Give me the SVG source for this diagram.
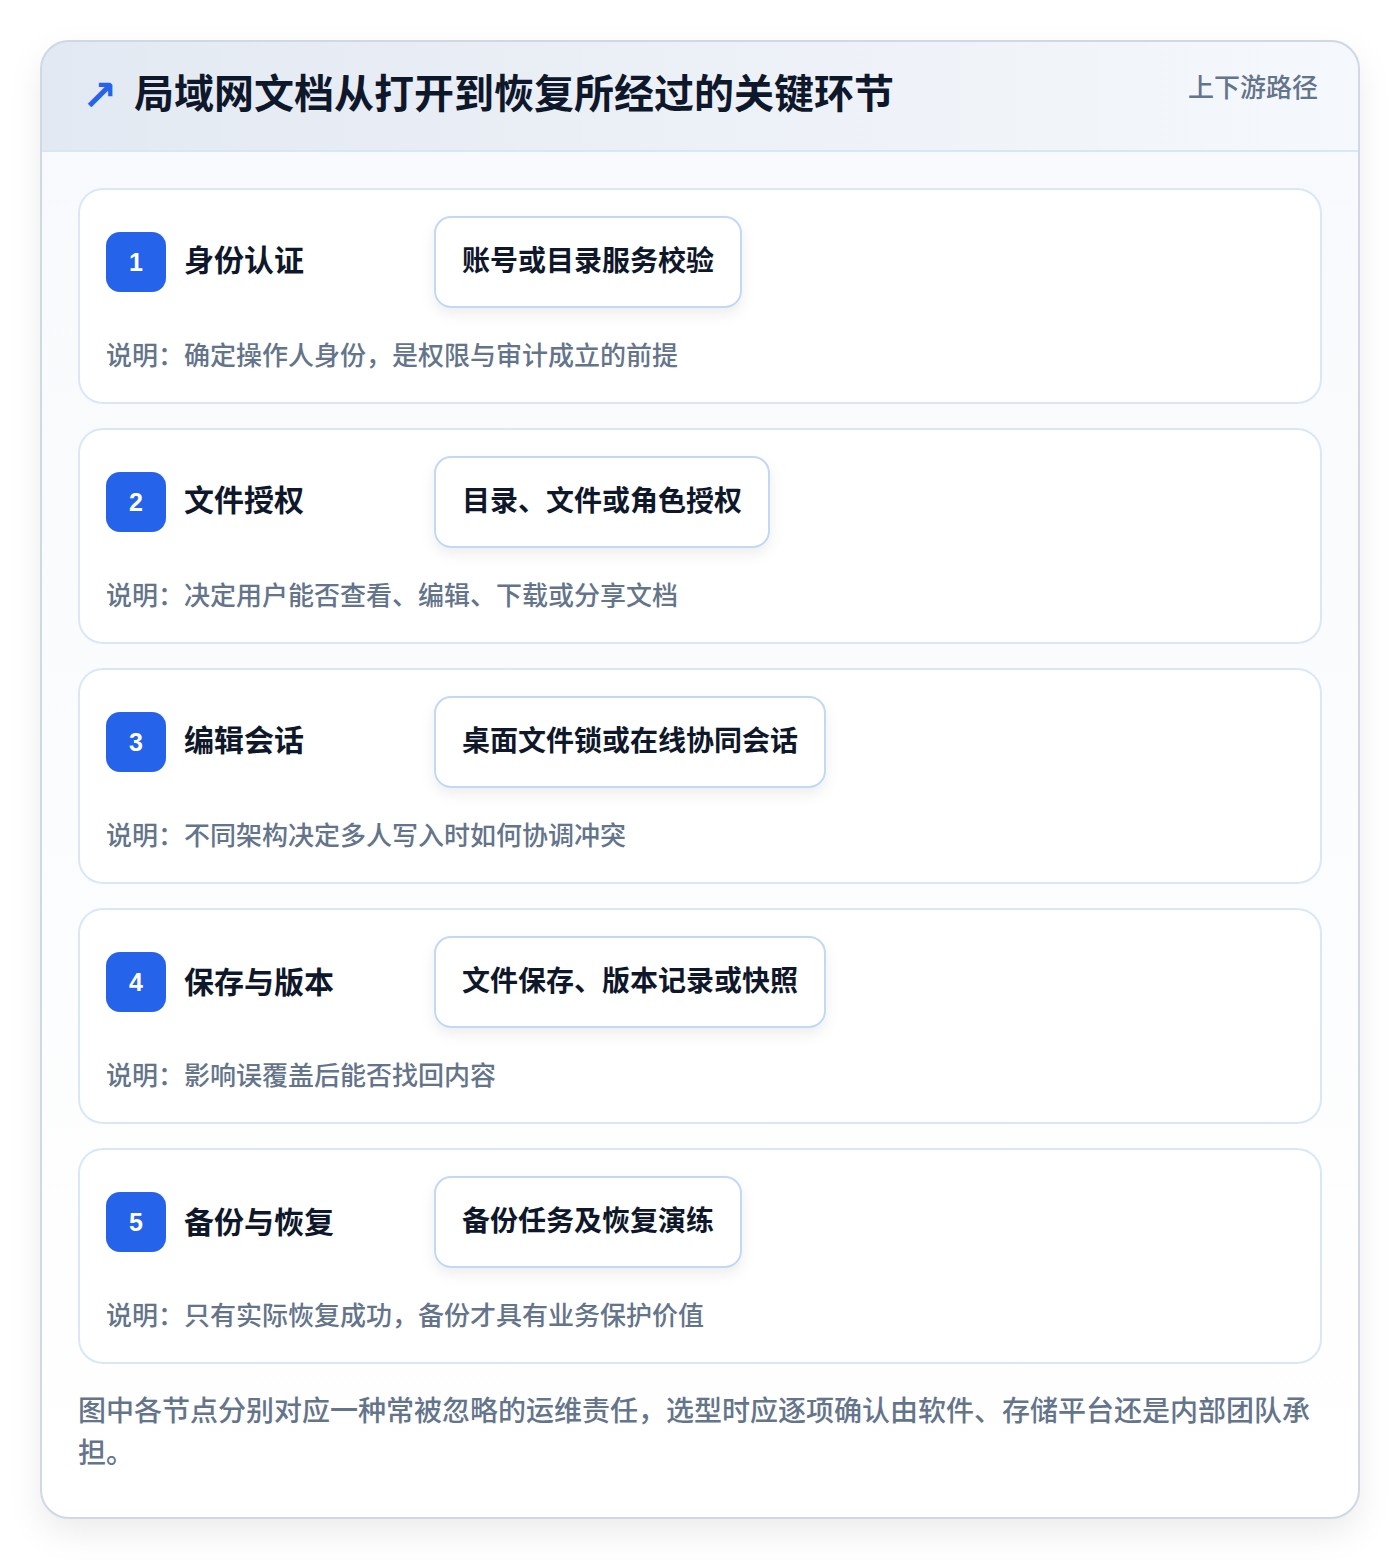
<svg xmlns="http://www.w3.org/2000/svg" width="1400" height="1560" viewBox="0 0 1400 1560">
<defs>
<linearGradient id="hdr" x1="0" y1="0" x2="1" y2="0"><stop offset="0" stop-color="#e3e9f2"/><stop offset="1" stop-color="#f5f8fc"/></linearGradient>
<linearGradient id="body" x1="0" y1="0" x2="0" y2="1"><stop offset="0" stop-color="#f7f9fc"/><stop offset="1" stop-color="#ffffff"/></linearGradient>
<filter id="outerShadow" x="-10%" y="-10%" width="120%" height="120%"><feDropShadow dx="0" dy="14" stdDeviation="16" flood-color="#0f172a" flood-opacity="0.08"/></filter>
<filter id="boxShadow" x="-20%" y="-30%" width="140%" height="170%"><feDropShadow dx="0" dy="6" stdDeviation="7" flood-color="#0f172a" flood-opacity="0.07"/></filter>
<clipPath id="outerClip"><rect x="41" y="41" width="1318" height="1477" rx="28"/></clipPath>
</defs>
<style>
.card{fill:#ffffff;stroke:#dbe7f7;stroke-width:2}
.badge{fill:#2563eb}
.num{font-family:"Liberation Sans",Arial,sans-serif;font-size:25px;font-weight:700;fill:#ffffff;text-anchor:middle}
.ttl{font-family:"Noto Sans CJK SC","Noto Sans",sans-serif;font-size:30px;font-weight:700;fill:#0f172a}
.box{fill:#ffffff;stroke:#c3d8f3;stroke-width:2}
.boxt{font-family:"Noto Sans CJK SC","Noto Sans",sans-serif;font-size:28px;font-weight:700;fill:#0f172a}
.desc{font-family:"Noto Sans CJK SC","Noto Sans",sans-serif;font-size:26px;font-weight:500;fill:#64748b}
.foot{font-family:"Noto Sans CJK SC","Noto Sans",sans-serif;font-size:28px;font-weight:500;fill:#64748b}
</style>
<rect width="1400" height="1560" fill="#ffffff"/>
<g id="frame">
<rect x="41" y="41" width="1318" height="1477" rx="28" fill="#ffffff" filter="url(#outerShadow)"/>
<g clip-path="url(#outerClip)">
<rect x="41" y="41" width="1318" height="1477" fill="url(#body)"/>
<rect x="41" y="41" width="1318" height="110" fill="url(#hdr)"/>
<line x1="41" y1="151" x2="1359" y2="151" stroke="#d9e6f6" stroke-width="2"/>
</g>
<rect x="41" y="41" width="1318" height="1477" rx="28" fill="none" stroke="#cfd8e4" stroke-width="2"/>
</g>
<g id="header">
<text x="82" y="110" font-family="'DejaVu Sans',sans-serif" font-size="42" font-weight="700" fill="#2563eb">↗</text>
<text x="134" y="108" font-family="'Noto Sans CJK SC','Noto Sans',sans-serif" font-size="40" font-weight="700" fill="#0f172a">局域网文档从打开到恢复所经过的关键环节</text>
<text x="1318" y="97" text-anchor="end" font-family="'Noto Sans CJK SC','Noto Sans',sans-serif" font-size="26" font-weight="500" fill="#64748b">上下游路径</text>
</g>
<g id="connectors"></g>
<g id="node1">
<rect class="card" x="79" y="189" width="1242" height="214" rx="24"/>
<rect class="badge" x="106" y="232" width="60" height="60" rx="14"/>
<text class="num" x="136" y="271">1</text>
<text class="ttl" x="184" y="271">身份认证</text>
<rect class="box" x="435" y="217" width="306" height="90" rx="16" filter="url(#boxShadow)"/>
<text class="boxt" x="462" y="271">账号或目录服务校验</text>
<text class="desc" x="106" y="365">说明：确定操作人身份，是权限与审计成立的前提</text>
</g>
<g id="node2">
<rect class="card" x="79" y="429" width="1242" height="214" rx="24"/>
<rect class="badge" x="106" y="472" width="60" height="60" rx="14"/>
<text class="num" x="136" y="511">2</text>
<text class="ttl" x="184" y="511">文件授权</text>
<rect class="box" x="435" y="457" width="334" height="90" rx="16" filter="url(#boxShadow)"/>
<text class="boxt" x="462" y="511">目录、文件或角色授权</text>
<text class="desc" x="106" y="605">说明：决定用户能否查看、编辑、下载或分享文档</text>
</g>
<g id="node3">
<rect class="card" x="79" y="669" width="1242" height="214" rx="24"/>
<rect class="badge" x="106" y="712" width="60" height="60" rx="14"/>
<text class="num" x="136" y="751">3</text>
<text class="ttl" x="184" y="751">编辑会话</text>
<rect class="box" x="435" y="697" width="390" height="90" rx="16" filter="url(#boxShadow)"/>
<text class="boxt" x="462" y="751">桌面文件锁或在线协同会话</text>
<text class="desc" x="106" y="845">说明：不同架构决定多人写入时如何协调冲突</text>
</g>
<g id="node4">
<rect class="card" x="79" y="909" width="1242" height="214" rx="24"/>
<rect class="badge" x="106" y="952" width="60" height="60" rx="14"/>
<text class="num" x="136" y="991">4</text>
<text class="ttl" x="184" y="993">保存与版本</text>
<rect class="box" x="435" y="937" width="390" height="90" rx="16" filter="url(#boxShadow)"/>
<text class="boxt" x="462" y="991">文件保存、版本记录或快照</text>
<text class="desc" x="106" y="1085">说明：影响误覆盖后能否找回内容</text>
</g>
<g id="node5">
<rect class="card" x="79" y="1149" width="1242" height="214" rx="24"/>
<rect class="badge" x="106" y="1192" width="60" height="60" rx="14"/>
<text class="num" x="136" y="1231">5</text>
<text class="ttl" x="184" y="1233">备份与恢复</text>
<rect class="box" x="435" y="1177" width="306" height="90" rx="16" filter="url(#boxShadow)"/>
<text class="boxt" x="462" y="1231">备份任务及恢复演练</text>
<text class="desc" x="106" y="1325">说明：只有实际恢复成功，备份才具有业务保护价值</text>
</g>
<g id="footer">
<text class="foot" x="78" y="1421">图中各节点分别对应一种常被忽略的运维责任，选型时应逐项确认由软件、存储平台还是内部团队承</text>
<text class="foot" x="78" y="1463">担。</text>
</g>
</svg>
